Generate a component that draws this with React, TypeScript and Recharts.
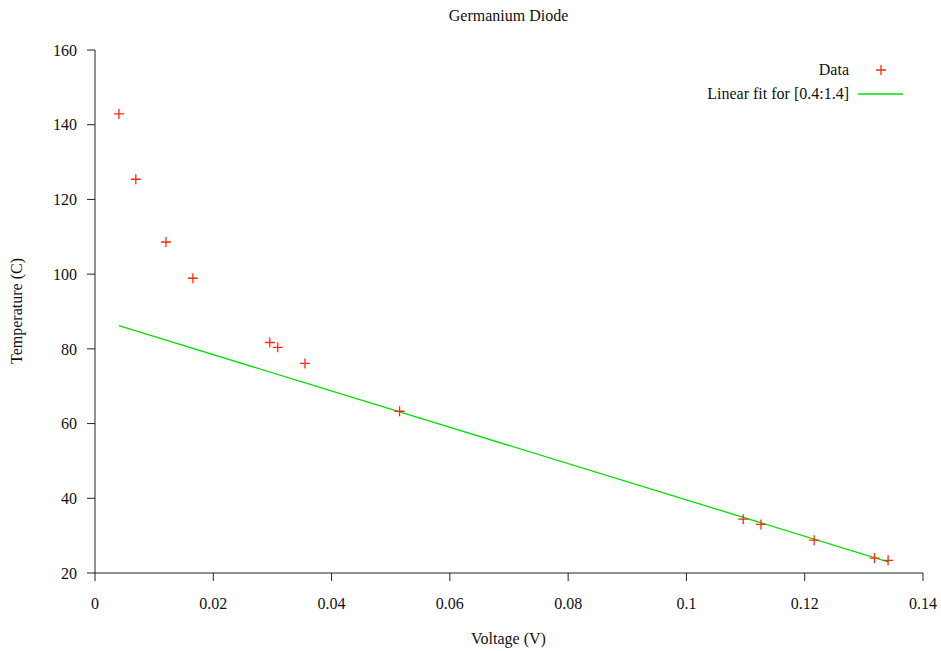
import React from "react";
import { ScatterChart, Scatter, XAxis, YAxis, Label } from "recharts";

// measured diode voltage (V) vs temperature (C)
const voltage = [
  0.00405, 0.0069, 0.0120, 0.01655, 0.02956, 0.0309, 0.0355, 0.0515,
  0.1096, 0.1126, 0.1216, 0.1318, 0.1341,
];
const temperature = [
  142.9, 125.4, 108.6, 98.9, 81.7, 80.4, 76.1, 63.3,
  34.4, 33.0, 28.8, 24.0, 23.4,
];

// linear fit evaluated at the ends of the data range
const fitVoltage = [0.00405, 0.1341];
const fitTemperature = [86.2, 23.0];

const xTicks = [0, 0.02, 0.04, 0.06, 0.08, 0.1, 0.12, 0.14];
const yTicks = [20, 40, 60, 80, 100, 120, 140, 160];

const FONT = "'Liberation Serif', 'DejaVu Serif', serif";
const RED = "#ff2a12";
const GREEN = "#00e000";
const AXIS = "#222";

const points = voltage.map((v, i) => ({ v, t: temperature[i] }));
const fitLine = fitVoltage.map((v, i) => ({ v, t: fitTemperature[i] }));

function Plus({ cx, cy }: { cx?: number; cy?: number }) {
  if (cx == null || cy == null) return null;
  return (
    <path
      d={`M${cx - 5},${cy}h10M${cx},${cy - 5}v10`}
      stroke={RED}
      strokeWidth={1.3}
      fill="none"
    />
  );
}

export default function App() {
  const tickStyle = { fontSize: 16, fontFamily: FONT, fill: "#111" };

  return (
    <div style={{ position: "absolute", left: 0, top: 0, width: 941, height: 651, background: "#fff" }}>
      <ScatterChart width={941} height={651} margin={{ top: 50, right: 18, bottom: 0, left: 0 }}>
        <XAxis
          type="number"
          dataKey="v"
          domain={[0, 0.14]}
          ticks={xTicks}
          tickFormatter={(v) => String(v)}
          height={78}
          stroke={AXIS}
          tickSize={8}
          tickMargin={17}
          tick={tickStyle}
          allowDataOverflow
        >
          <Label
            content={() => (
              <text x={508.5} y={644} textAnchor="middle" fontSize={16} fontFamily={FONT} fill="#111">
                Voltage (V)
              </text>
            )}
          />
        </XAxis>
        <YAxis
          type="number"
          dataKey="t"
          domain={[20, 160]}
          ticks={yTicks}
          width={95}
          stroke={AXIS}
          tickSize={8}
          tickMargin={10}
          tick={tickStyle}
          allowDataOverflow
        >
          <Label
            content={() => (
              <text
                x={22}
                y={311}
                transform="rotate(-90 22 311)"
                textAnchor="middle"
                fontSize={16}
                fontFamily={FONT}
                fill="#111"
              >
                Temperature (C)
              </text>
            )}
          />
        </YAxis>
        <Scatter
          data={fitLine}
          line={{ stroke: GREEN, strokeWidth: 1.3 }}
          shape={() => <g />}
          isAnimationActive={false}
        />
        <Scatter data={points} shape={<Plus />} isAnimationActive={false} />
      </ScatterChart>

      <div
        style={{
          position: "absolute",
          left: 0,
          top: 7,
          width: 1017,
          textAlign: "center",
          fontFamily: FONT,
          fontSize: 16,
          color: "#111",
        }}
      >
        Germanium Diode
      </div>

      <div style={{ position: "absolute", left: 600, top: 58, width: 320, fontFamily: FONT, fontSize: 16, color: "#111" }}>
        <div style={{ display: "flex", alignItems: "center", height: 24 }}>
          <span style={{ width: 249, textAlign: "right" }}>Data</span>
          <svg width={60} height={24}>
            <path d="M27,12h10M32,7v10" stroke={RED} strokeWidth={1.3} fill="none" />
          </svg>
        </div>
        <div style={{ display: "flex", alignItems: "center", height: 24 }}>
          <span style={{ width: 249, textAlign: "right" }}>Linear fit for [0.4:1.4]</span>
          <svg width={60} height={24}>
            <line x1={9} y1={12} x2={54} y2={12} stroke={GREEN} strokeWidth={1.3} />
          </svg>
        </div>
      </div>
    </div>
  );
}
